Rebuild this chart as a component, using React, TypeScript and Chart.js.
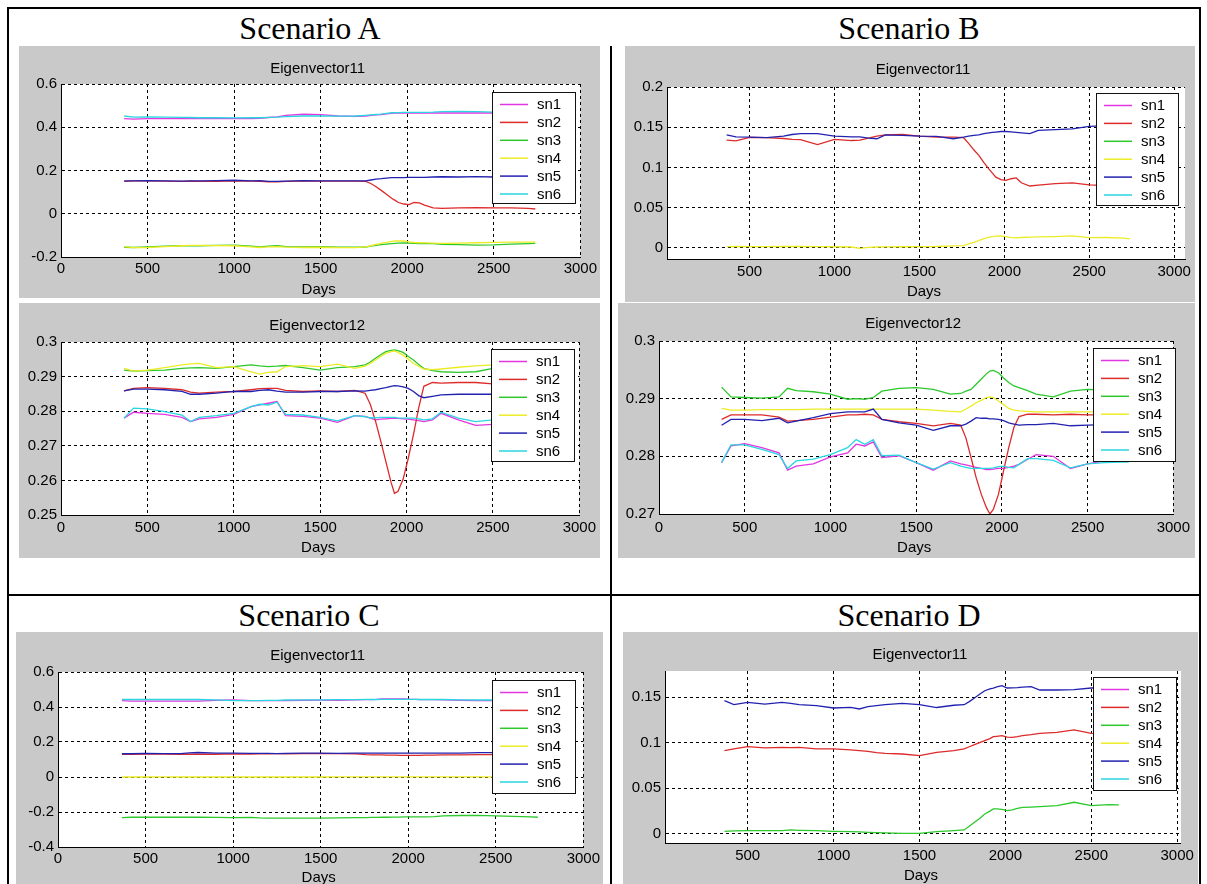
import React, { useEffect, useRef } from 'react';
import { Chart, registerables } from 'chart.js';

Chart.register(...registerables);

// ---------------- DATA ----------------
const DAYS = [365, 420, 500, 600, 700, 750, 800, 900, 1000, 1100, 1150, 1200, 1250, 1300, 1400, 1500, 1600, 1700, 1760, 1790, 1820, 1850, 1880, 1910, 1930, 1950, 1980, 2010, 2040, 2070, 2100, 2150, 2200, 2300, 2400, 2500, 2600, 2700, 2740];
const DAYS_D = [365, 420, 500, 600, 700, 750, 800, 900, 1000, 1100, 1150, 1200, 1250, 1300, 1400, 1500, 1600, 1700, 1760, 1790, 1820, 1850, 1880, 1910, 1930, 1950, 1980, 2010, 2040, 2070, 2100, 2150, 2200, 2300, 2400, 2500, 2600, 2660];

const SERIES_NAMES = ['sn1', 'sn2', 'sn3', 'sn4', 'sn5', 'sn6'];
const SERIES_COLORS = ['#e236e2', '#dd2a2a', '#2cc82c', '#ecec26', '#2222b0', '#2ad6e0'];

const X_TICKS_FULL = [0, 500, 1000, 1500, 2000, 2500, 3000];
const X_TICKS_NO_ZERO = [500, 1000, 1500, 2000, 2500, 3000];
const A1_Y_TICKS = [-0.2, 0, 0.2, 0.4, 0.6];
const A2_Y_TICKS = [0.25, 0.26, 0.27, 0.28, 0.29, 0.3];
const B1_Y_TICKS = [0, 0.05, 0.1, 0.15, 0.2];
const B2_Y_TICKS = [0.27, 0.28, 0.29, 0.3];
const C_Y_TICKS = [-0.4, -0.2, 0, 0.2, 0.4, 0.6];
const D_Y_TICKS = [0, 0.05, 0.1, 0.15];

// Scenario A - Eigenvector11
const A1_SN1 = [0.440, 0.438, 0.440, 0.440, 0.441, 0.440, 0.440, 0.440, 0.440, 0.440, 0.441, 0.445, 0.448, 0.455, 0.460, 0.458, 0.452, 0.450, 0.452, 0.455, 0.457, 0.459, 0.462, 0.464, 0.465, 0.465, 0.465, 0.465, 0.465, 0.465, 0.465, 0.466, 0.466, 0.466, 0.466, 0.466, 0.467, 0.467, 0.468];
const A1_SN2 = [0.150, 0.152, 0.152, 0.151, 0.150, 0.151, 0.150, 0.150, 0.152, 0.151, 0.150, 0.148, 0.148, 0.150, 0.151, 0.151, 0.151, 0.151, 0.150, 0.140, 0.125, 0.108, 0.090, 0.072, 0.062, 0.052, 0.045, 0.042, 0.052, 0.050, 0.040, 0.027, 0.025, 0.027, 0.028, 0.027, 0.027, 0.025, 0.022];
const A1_SN3 = [-0.155, -0.156, -0.153, -0.150, -0.148, -0.147, -0.148, -0.146, -0.145, -0.150, -0.153, -0.150, -0.148, -0.152, -0.153, -0.152, -0.154, -0.155, -0.154, -0.150, -0.146, -0.143, -0.140, -0.138, -0.137, -0.136, -0.135, -0.136, -0.137, -0.138, -0.137, -0.138, -0.141, -0.143, -0.145, -0.144, -0.140, -0.138, -0.137];
const A1_SN4 = [-0.152, -0.157, -0.156, -0.152, -0.148, -0.146, -0.146, -0.147, -0.148, -0.153, -0.156, -0.153, -0.152, -0.154, -0.156, -0.155, -0.157, -0.157, -0.153, -0.148, -0.142, -0.137, -0.132, -0.128, -0.126, -0.125, -0.126, -0.130, -0.133, -0.134, -0.135, -0.136, -0.137, -0.136, -0.134, -0.132, -0.131, -0.131, -0.130];
const A1_SN5 = [0.152, 0.152, 0.153, 0.152, 0.151, 0.152, 0.152, 0.153, 0.155, 0.152, 0.153, 0.150, 0.150, 0.151, 0.153, 0.152, 0.152, 0.152, 0.152, 0.156, 0.160, 0.162, 0.165, 0.167, 0.167, 0.167, 0.167, 0.168, 0.168, 0.168, 0.168, 0.170, 0.171, 0.170, 0.172, 0.170, 0.171, 0.172, 0.172];
const A1_SN6 = [0.452, 0.447, 0.448, 0.447, 0.446, 0.445, 0.444, 0.444, 0.443, 0.444, 0.444, 0.446, 0.447, 0.449, 0.452, 0.452, 0.451, 0.452, 0.455, 0.457, 0.459, 0.461, 0.464, 0.467, 0.468, 0.468, 0.469, 0.469, 0.469, 0.469, 0.469, 0.470, 0.472, 0.473, 0.472, 0.470, 0.470, 0.471, 0.471];

// Scenario A - Eigenvector12
const A2_SN1 = [0.2780, 0.2797, 0.2794, 0.2791, 0.2782, 0.2770, 0.2778, 0.2782, 0.2791, 0.2813, 0.2818, 0.2823, 0.2828, 0.2787, 0.2785, 0.2780, 0.2768, 0.2787, 0.2785, 0.2780, 0.2775, 0.2777, 0.2778, 0.2779, 0.2780, 0.2779, 0.2778, 0.2777, 0.2775, 0.2773, 0.2770, 0.2775, 0.2794, 0.2775, 0.2759, 0.2762, 0.2762, 0.2763, 0.2763];
const A2_SN2 = [0.2859, 0.2866, 0.2868, 0.2866, 0.2862, 0.2855, 0.2852, 0.2855, 0.2857, 0.2862, 0.2865, 0.2866, 0.2866, 0.2860, 0.2857, 0.2859, 0.2857, 0.2860, 0.2852, 0.2820, 0.2772, 0.2715, 0.2655, 0.2595, 0.2563, 0.2568, 0.2603, 0.2664, 0.2732, 0.2809, 0.2872, 0.2883, 0.2881, 0.2883, 0.2883, 0.2879, 0.2878, 0.2878, 0.2877];
const A2_SN3 = [0.2919, 0.2916, 0.2917, 0.2919, 0.2924, 0.2925, 0.2926, 0.2924, 0.2929, 0.2934, 0.2931, 0.2929, 0.2930, 0.2932, 0.2926, 0.2919, 0.2926, 0.2929, 0.2934, 0.2942, 0.2953, 0.2963, 0.2972, 0.2976, 0.2977, 0.2975, 0.2970, 0.2958, 0.2948, 0.2935, 0.2924, 0.2917, 0.2914, 0.2912, 0.2914, 0.2924, 0.2922, 0.2921, 0.2920];
const A2_SN4 = [0.2924, 0.2916, 0.2919, 0.2926, 0.2934, 0.2937, 0.2938, 0.2926, 0.2929, 0.2914, 0.2907, 0.2912, 0.2914, 0.2929, 0.2932, 0.2929, 0.2936, 0.2924, 0.2930, 0.2938, 0.2948, 0.2958, 0.2967, 0.2972, 0.2974, 0.2970, 0.2962, 0.2950, 0.2938, 0.2930, 0.2922, 0.2920, 0.2922, 0.2927, 0.2931, 0.2934, 0.2933, 0.2932, 0.2932];
const A2_SN5 = [0.2859, 0.2864, 0.2864, 0.2862, 0.2857, 0.2849, 0.2849, 0.2852, 0.2857, 0.2857, 0.2860, 0.2862, 0.2858, 0.2855, 0.2855, 0.2857, 0.2857, 0.2859, 0.2858, 0.2860, 0.2862, 0.2865, 0.2868, 0.2872, 0.2874, 0.2873, 0.2870, 0.2866, 0.2857, 0.2845, 0.2839, 0.2843, 0.2847, 0.2849, 0.2849, 0.2849, 0.2849, 0.2850, 0.2850];
const A2_SN6 = [0.2780, 0.2809, 0.2807, 0.2799, 0.2789, 0.2770, 0.2782, 0.2787, 0.2794, 0.2813, 0.2820, 0.2818, 0.2826, 0.2791, 0.2789, 0.2782, 0.2772, 0.2787, 0.2784, 0.2781, 0.2781, 0.2782, 0.2782, 0.2782, 0.2782, 0.2781, 0.2780, 0.2780, 0.2780, 0.2778, 0.2775, 0.2778, 0.2797, 0.2780, 0.2770, 0.2775, 0.2776, 0.2777, 0.2777];

// Scenario B - Eigenvector11 (sn1, sn3, sn6 not visible)
const B1_SN1: number[] = [];
const B1_SN2 = [0.1340, 0.1330, 0.1375, 0.1370, 0.1360, 0.1350, 0.1345, 0.1285, 0.1350, 0.1335, 0.1340, 0.1366, 0.1390, 0.1406, 0.1410, 0.1390, 0.1378, 0.1378, 0.1370, 0.1300, 0.1220, 0.1150, 0.1060, 0.0980, 0.0930, 0.0880, 0.0850, 0.0840, 0.0860, 0.0870, 0.0810, 0.0770, 0.0780, 0.0800, 0.0810, 0.0785, 0.0775, 0.0770, 0.0770];
const B1_SN3: number[] = [];
const B1_SN4 = [0.0016, 0.0018, 0.0017, 0.0016, 0.0018, 0.0020, 0.0018, 0.0016, 0.0015, 0.0012, -0.0004, 0.0008, 0.0012, 0.0014, 0.0015, 0.0016, 0.0018, 0.0025, 0.0030, 0.0050, 0.0070, 0.0090, 0.0115, 0.0135, 0.0142, 0.0148, 0.0150, 0.0140, 0.0128, 0.0125, 0.0130, 0.0135, 0.0138, 0.0142, 0.0150, 0.0128, 0.0130, 0.0122, 0.0112];
const B1_SN5 = [0.1406, 0.1380, 0.1378, 0.1370, 0.1390, 0.1410, 0.1420, 0.1420, 0.1390, 0.1380, 0.1380, 0.1365, 0.1357, 0.1405, 0.1400, 0.1390, 0.1386, 0.1357, 0.1378, 0.1390, 0.1400, 0.1406, 0.1420, 0.1430, 0.1435, 0.1440, 0.1447, 0.1447, 0.1442, 0.1437, 0.1430, 0.1420, 0.1460, 0.1470, 0.1480, 0.1510, 0.1520, 0.1530, 0.1530];
const B1_SN6: number[] = [];

// Scenario B - Eigenvector12
const B2_SN1 = [0.2789, 0.2818, 0.2822, 0.2815, 0.2806, 0.2776, 0.2783, 0.2787, 0.2799, 0.2806, 0.2821, 0.2818, 0.2825, 0.2798, 0.2801, 0.2789, 0.2776, 0.2792, 0.2787, 0.2785, 0.2783, 0.2781, 0.2779, 0.2777, 0.2777, 0.2778, 0.2779, 0.2779, 0.2781, 0.2783, 0.2786, 0.2795, 0.2803, 0.2800, 0.2779, 0.2787, 0.2792, 0.2792, 0.2792];
const B2_SN2 = [0.2864, 0.2872, 0.2872, 0.2872, 0.2868, 0.2861, 0.2862, 0.2864, 0.2868, 0.2872, 0.2872, 0.2873, 0.2872, 0.2864, 0.2860, 0.2857, 0.2853, 0.2857, 0.2854, 0.2832, 0.2798, 0.2763, 0.2734, 0.2711, 0.2700, 0.2708, 0.2734, 0.2775, 0.2815, 0.2850, 0.2869, 0.2873, 0.2873, 0.2872, 0.2873, 0.2872, 0.2872, 0.2872, 0.2872];
const B2_SN3 = [0.2920, 0.2903, 0.2902, 0.2901, 0.2903, 0.2918, 0.2914, 0.2912, 0.2908, 0.2899, 0.2900, 0.2899, 0.2902, 0.2913, 0.2918, 0.2919, 0.2916, 0.2908, 0.2909, 0.2913, 0.2916, 0.2925, 0.2934, 0.2943, 0.2948, 0.2949, 0.2945, 0.2936, 0.2928, 0.2922, 0.2919, 0.2914, 0.2908, 0.2903, 0.2913, 0.2916, 0.2915, 0.2915, 0.2915];
const B2_SN4 = [0.2883, 0.2880, 0.2880, 0.2881, 0.2881, 0.2881, 0.2881, 0.2882, 0.2882, 0.2882, 0.2882, 0.2882, 0.2882, 0.2882, 0.2882, 0.2882, 0.2880, 0.2878, 0.2877, 0.2882, 0.2887, 0.2893, 0.2897, 0.2902, 0.2903, 0.2902, 0.2896, 0.2890, 0.2883, 0.2880, 0.2879, 0.2878, 0.2877, 0.2877, 0.2877, 0.2877, 0.2877, 0.2877, 0.2877];
const B2_SN5 = [0.2854, 0.2864, 0.2864, 0.2862, 0.2866, 0.2858, 0.2861, 0.2867, 0.2874, 0.2877, 0.2877, 0.2877, 0.2882, 0.2864, 0.2858, 0.2854, 0.2845, 0.2853, 0.2853, 0.2856, 0.2861, 0.2867, 0.2866, 0.2866, 0.2865, 0.2865, 0.2864, 0.2862, 0.2858, 0.2856, 0.2854, 0.2855, 0.2855, 0.2857, 0.2853, 0.2854, 0.2855, 0.2855, 0.2855];
const B2_SN6 = [0.2789, 0.2820, 0.2820, 0.2812, 0.2803, 0.2779, 0.2792, 0.2795, 0.2803, 0.2815, 0.2829, 0.2821, 0.2829, 0.2801, 0.2802, 0.2789, 0.2778, 0.2789, 0.2783, 0.2781, 0.2779, 0.2779, 0.2779, 0.2779, 0.2779, 0.2780, 0.2782, 0.2783, 0.2781, 0.2780, 0.2786, 0.2796, 0.2796, 0.2793, 0.2780, 0.2787, 0.2789, 0.2790, 0.2790];

// Scenario C - Eigenvector11
const C_SN1 = [0.436, 0.434, 0.434, 0.434, 0.434, 0.434, 0.434, 0.438, 0.440, 0.436, 0.436, 0.437, 0.437, 0.437, 0.438, 0.439, 0.438, 0.441, 0.442, 0.442, 0.443, 0.446, 0.446, 0.447, 0.447, 0.447, 0.447, 0.444, 0.443, 0.442, 0.442, 0.442, 0.441, 0.438, 0.437, 0.437, 0.437, 0.437, 0.437];
const C_SN2 = [0.130, 0.130, 0.131, 0.131, 0.130, 0.131, 0.130, 0.130, 0.132, 0.131, 0.132, 0.132, 0.133, 0.133, 0.134, 0.134, 0.133, 0.132, 0.128, 0.127, 0.126, 0.126, 0.125, 0.125, 0.125, 0.124, 0.124, 0.124, 0.124, 0.124, 0.125, 0.125, 0.126, 0.127, 0.128, 0.128, 0.128, 0.128, 0.128];
const C_SN3 = [-0.232, -0.230, -0.230, -0.230, -0.230, -0.230, -0.230, -0.231, -0.232, -0.231, -0.234, -0.235, -0.235, -0.235, -0.235, -0.235, -0.234, -0.232, -0.232, -0.231, -0.231, -0.230, -0.230, -0.229, -0.229, -0.229, -0.228, -0.228, -0.228, -0.228, -0.228, -0.227, -0.222, -0.220, -0.219, -0.222, -0.225, -0.228, -0.230];
const C_SN4 = [0.000, 0.000, 0.000, 0.001, 0.000, 0.000, 0.000, 0.000, 0.000, 0.000, 0.000, 0.000, 0.000, 0.000, 0.000, 0.000, 0.001, 0.001, 0.001, 0.001, 0.001, 0.001, 0.001, 0.001, 0.001, 0.001, 0.001, 0.001, 0.001, 0.001, 0.001, 0.001, 0.001, 0.001, 0.001, 0.001, 0.001, 0.001, 0.001];
const C_SN5 = [0.133, 0.133, 0.135, 0.134, 0.134, 0.138, 0.140, 0.137, 0.136, 0.135, 0.135, 0.135, 0.134, 0.135, 0.136, 0.136, 0.135, 0.136, 0.136, 0.136, 0.136, 0.136, 0.136, 0.136, 0.136, 0.136, 0.136, 0.136, 0.136, 0.136, 0.136, 0.136, 0.136, 0.137, 0.139, 0.139, 0.139, 0.139, 0.139];
const C_SN6 = [0.443, 0.443, 0.443, 0.443, 0.443, 0.443, 0.443, 0.441, 0.436, 0.436, 0.437, 0.438, 0.438, 0.440, 0.441, 0.441, 0.442, 0.442, 0.443, 0.443, 0.443, 0.444, 0.444, 0.444, 0.444, 0.444, 0.444, 0.444, 0.444, 0.443, 0.443, 0.443, 0.443, 0.441, 0.440, 0.440, 0.440, 0.440, 0.440];

// Scenario D - Eigenvector11 (sn1, sn4, sn6 not visible)
const D_SN1: number[] = [];
const D_SN2 = [0.0912, 0.0931, 0.0956, 0.0942, 0.0949, 0.0945, 0.0949, 0.0931, 0.0931, 0.0920, 0.0912, 0.0905, 0.0890, 0.0883, 0.0876, 0.0858, 0.0894, 0.0912, 0.0931, 0.0955, 0.0978, 0.1000, 0.1022, 0.1045, 0.1066, 0.1070, 0.1077, 0.1060, 0.1058, 0.1066, 0.1077, 0.1088, 0.1102, 0.1113, 0.1139, 0.1102, 0.1100, 0.1100];
const D_SN3 = [0.0029, 0.0033, 0.0036, 0.0036, 0.0036, 0.0044, 0.0040, 0.0036, 0.0029, 0.0026, 0.0022, 0.0018, 0.0014, 0.0011, 0.0007, 0.0007, 0.0026, 0.0036, 0.0044, 0.0085, 0.0128, 0.0170, 0.0219, 0.0250, 0.0274, 0.0274, 0.0270, 0.0255, 0.0263, 0.0280, 0.0292, 0.0295, 0.0299, 0.0310, 0.0347, 0.0310, 0.0321, 0.0318];
const D_SN4: number[] = [];
const D_SN5 = [0.1460, 0.1416, 0.1442, 0.1423, 0.1442, 0.1430, 0.1416, 0.1405, 0.1380, 0.1387, 0.1369, 0.1394, 0.1405, 0.1416, 0.1431, 0.1416, 0.1385, 0.1410, 0.1416, 0.1450, 0.1489, 0.1530, 0.1569, 0.1590, 0.1598, 0.1610, 0.1624, 0.1599, 0.1600, 0.1602, 0.1608, 0.1613, 0.1577, 0.1577, 0.1580, 0.1599, 0.1600, 0.1600];
const D_SN6: number[] = [];

// ---------------- LAYOUT / STYLE ----------------
const PANEL_BG = '#c9c9c9';
const FONT = '"Liberation Sans", Arial, Helvetica, sans-serif';
const SERIF = '"Liberation Serif", "Times New Roman", Times, serif';

type Rect = { x: number; y: number; w: number; h: number };
type Spec = {
  panel: Rect;
  plot: { l: number; t: number; r: number; b: number };
  xMin: number; xMax: number; yMin: number; yMax: number;
  xTicks: number[]; yTicks: number[];
  title: string; titleY: number; daysY: number; xTickPad: number;
  legend: Rect;
  days: number[];
  series: number[][];
};

const SPECS: Spec[] = [
  {
    panel: { x: 19, y: 46, w: 581, h: 252 }, plot: { l: 61, t: 84, r: 583, b: 257 },
    xMin: 0, xMax: 3000, yMin: -0.2, yMax: 0.6, xTicks: X_TICKS_FULL, yTicks: A1_Y_TICKS,
    title: 'Eigenvector11', titleY: 69, daysY: 290, xTickPad: 3,
    legend: { x: 492, y: 92, w: 84, h: 112 }, days: DAYS,
    series: [A1_SN1, A1_SN2, A1_SN3, A1_SN4, A1_SN5, A1_SN6],
  },
  {
    panel: { x: 19, y: 303, w: 581, h: 255 }, plot: { l: 61, t: 342, r: 582, b: 515 },
    xMin: 0, xMax: 3000, yMin: 0.25, yMax: 0.3, xTicks: X_TICKS_FULL, yTicks: A2_Y_TICKS,
    title: 'Eigenvector12', titleY: 326, daysY: 548, xTickPad: 4,
    legend: { x: 491, y: 349, w: 84, h: 113 }, days: DAYS,
    series: [A2_SN1, A2_SN2, A2_SN3, A2_SN4, A2_SN5, A2_SN6],
  },
  {
    panel: { x: 625, y: 46, w: 570, h: 256 }, plot: { l: 667, t: 87, r: 1188, b: 259 },
    xMin: 14, xMax: 3064, yMin: -0.0137, yMax: 0.2, xTicks: X_TICKS_NO_ZERO, yTicks: B1_Y_TICKS,
    title: 'Eigenvector11', titleY: 70, daysY: 292, xTickPad: 4,
    legend: { x: 1096, y: 93, w: 83, h: 113 }, days: DAYS,
    series: [B1_SN1, B1_SN2, B1_SN3, B1_SN4, B1_SN5, B1_SN6],
  },
  {
    panel: { x: 618, y: 303, w: 577, h: 255 }, plot: { l: 659, t: 341, r: 1184, b: 514 },
    xMin: 0, xMax: 3000, yMin: 0.27, yMax: 0.3, xTicks: X_TICKS_FULL, yTicks: B2_Y_TICKS,
    title: 'Eigenvector12', titleY: 324, daysY: 548, xTickPad: 5,
    legend: { x: 1093, y: 348, w: 83, h: 114 }, days: DAYS,
    series: [B2_SN1, B2_SN2, B2_SN3, B2_SN4, B2_SN5, B2_SN6],
  },
  {
    panel: { x: 16, y: 632, w: 587, h: 252 }, plot: { l: 58, t: 672, r: 584, b: 847 },
    xMin: 0, xMax: 3000, yMin: -0.4, yMax: 0.6, xTicks: X_TICKS_FULL, yTicks: C_Y_TICKS,
    title: 'Eigenvector11', titleY: 656, daysY: 878, xTickPad: 3,
    legend: { x: 492, y: 680, w: 84, h: 114 }, days: DAYS,
    series: [C_SN1, C_SN2, C_SN3, C_SN4, C_SN5, C_SN6],
  },
  {
    panel: { x: 623, y: 632, w: 575, h: 252 }, plot: { l: 665, t: 671, r: 1183, b: 843 },
    xMin: 19, xMax: 3022, yMin: -0.0099, yMax: 0.1785, xTicks: X_TICKS_NO_ZERO, yTicks: D_Y_TICKS,
    title: 'Eigenvector11', titleY: 655, daysY: 876, xTickPad: 4,
    legend: { x: 1093, y: 677, w: 84, h: 114 }, days: DAYS_D,
    series: [D_SN1, D_SN2, D_SN3, D_SN4, D_SN5, D_SN6],
  },
];

function fmtY(v: number) {
  if (Math.abs(v) < 1e-9) return '0';
  return String(parseFloat(v.toFixed(4)));
}

function EigenChart({ spec }: { spec: Spec }) {
  const ref = useRef<HTMLCanvasElement>(null);
  useEffect(() => {
    const { panel, plot } = spec;
    const yAxisW = plot.l - panel.x;
    const xAxisH = panel.y + panel.h - plot.b;
    const datasets = spec.series.map((vals, i) => ({
      label: SERIES_NAMES[i],
      data: vals.map((v, k) => ({ x: spec.days[k], y: v })),
      borderColor: SERIES_COLORS[i],
      backgroundColor: SERIES_COLORS[i],
      borderWidth: 1.3,
      pointRadius: 0,
      fill: false,
      tension: 0,
      order: 5 - i,
    }));

    const deco = {
      id: 'deco',
      beforeDraw(chart: any) {
        const { ctx, chartArea: ca, width, height } = chart;
        ctx.save();
        ctx.fillStyle = PANEL_BG;
        ctx.fillRect(0, 0, width, height);
        ctx.fillStyle = '#ffffff';
        ctx.fillRect(ca.left, ca.top, ca.right - ca.left, ca.bottom - ca.top);
        ctx.restore();
      },
      afterDraw(chart: any) {
        const { ctx, chartArea: ca } = chart;
        const cx = (ca.left + ca.right) / 2;
        ctx.save();
        ctx.fillStyle = '#000';
        ctx.font = `15px ${FONT}`;
        ctx.textAlign = 'center';
        ctx.textBaseline = 'middle';
        ctx.fillText(spec.title, cx - 3, spec.titleY - panel.y);
        ctx.fillText('Days', cx - 2, spec.daysY - panel.y);
        // legend
        const L = spec.legend;
        const lx = L.x - panel.x;
        const ly = L.y - panel.y;
        ctx.fillStyle = '#ffffff';
        ctx.fillRect(lx, ly, L.w, L.h);
        ctx.strokeStyle = '#111';
        ctx.lineWidth = 1;
        ctx.strokeRect(lx + 0.5, ly + 0.5, L.w - 1, L.h - 1);
        ctx.textAlign = 'left';
        for (let i = 0; i < SERIES_NAMES.length; i++) {
          const y = ly + 12.5 + i * 17.9;
          ctx.strokeStyle = SERIES_COLORS[i];
          ctx.lineWidth = 1.5;
          ctx.beginPath();
          ctx.moveTo(lx + 8, y);
          ctx.lineTo(lx + 36, y);
          ctx.stroke();
          ctx.fillStyle = '#000';
          ctx.fillText(SERIES_NAMES[i], lx + 45, y + 0.5);
        }
        ctx.restore();
      },
    };

    const chart = new Chart(ref.current as HTMLCanvasElement, {
      type: 'line',
      data: { datasets } as any,
      options: {
        animation: false,
        responsive: false,
        maintainAspectRatio: false,
        events: [],
        layout: { padding: { top: plot.t - panel.y, right: panel.x + panel.w - plot.r, left: 0, bottom: 0 } },
        plugins: { legend: { display: false }, tooltip: { enabled: false }, title: { display: false } },
        scales: {
          x: {
            type: 'linear',
            bounds: 'data',
            min: spec.xMin,
            max: spec.xMax,
            afterBuildTicks: (axis: any) => { axis.ticks = spec.xTicks.map((v) => ({ value: v })); },
            afterFit: (s: any) => { s.height = xAxisH; },
            grid: { color: '#000', lineWidth: 1, drawTicks: false },
            border: { display: true, color: '#000', width: 1, dash: [3, 3] },
            ticks: {
              color: '#000',
              font: { family: FONT, size: 15 },
              padding: spec.xTickPad,
              autoSkip: false,
              maxRotation: 0,
              callback: (v: any) => String(v),
            },
          },
          y: {
            type: 'linear',
            bounds: 'data',
            min: spec.yMin,
            max: spec.yMax,
            afterBuildTicks: (axis: any) => { axis.ticks = spec.yTicks.map((v) => ({ value: v })); },
            afterFit: (s: any) => { s.width = yAxisW; },
            grid: { color: '#000', lineWidth: 1, drawTicks: false },
            border: { display: true, color: '#000', width: 1, dash: [3, 3] },
            ticks: {
              color: '#000',
              font: { family: FONT, size: 15 },
              padding: 4,
              autoSkip: false,
              callback: (v: any) => fmtY(Number(v)),
            },
          },
        },
      } as any,
      plugins: [deco],
    });
    return () => chart.destroy();
  }, [spec]);

  const { panel } = spec;
  return (
    <canvas
      ref={ref}
      width={panel.w}
      height={panel.h}
      style={{ position: 'absolute', left: panel.x, top: panel.y, width: panel.w, height: panel.h }}
    />
  );
}

function Line({ x, y, w, h }: Rect) {
  return <div style={{ position: 'absolute', left: x, top: y, width: w, height: h, background: '#000' }} />;
}

function Heading({ text, cx, top }: { text: string; cx: number; top: number }) {
  return (
    <div
      style={{
        position: 'absolute', left: cx - 200, top, width: 400, height: 36, lineHeight: '36px',
        textAlign: 'center', fontFamily: SERIF, fontSize: 32, color: '#000', whiteSpace: 'nowrap',
      }}
    >
      {text}
    </div>
  );
}

export default function App() {
  return (
    <div style={{ position: 'absolute', left: 0, top: 0, width: 1207, height: 884, overflow: 'hidden', background: '#fff' }}>
      <Heading text="Scenario A" cx={310} top={10} />
      <Heading text="Scenario B" cx={909} top={10} />
      <Heading text="Scenario C" cx={309} top={597} />
      <Heading text="Scenario D" cx={909} top={597} />
      {SPECS.map((s, i) => <EigenChart key={i} spec={s} />)}
      <Line x={7} y={7} w={1194} h={2} />
      <Line x={7} y={7} w={2} h={877} />
      <Line x={1199} y={7} w={2} h={877} />
      <Line x={610} y={46} w={2} h={550} />
      <Line x={7} y={594} w={1194} h={2} />
      <Line x={610} y={594} w={2} h={290} />
    </div>
  );
}
